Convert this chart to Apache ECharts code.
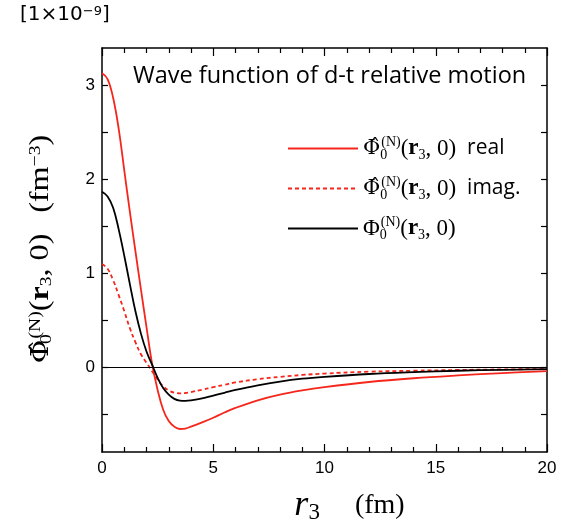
<!DOCTYPE html>
<html>
<head>
    <meta charset="utf-8">
    <title>d-t wave function</title>
    <script src="https://cdn.jsdelivr.net/npm/echarts@6/dist/echarts.min.js"></script>
    <style>
        html, body { margin: 0; padding: 0; background: #fff; }
        #chart { width: 561px; height: 529px; }
    </style>
</head>
<body>
<div id="chart"></div>
<script type="text/javascript">
    // r3 (fm)
    var r3 = [0, 0.25, 0.5, 0.75, 1, 1.25, 1.5, 1.75, 2, 2.25, 2.5, 2.75, 3, 3.25, 3.5, 3.75, 4, 4.5, 5, 5.5, 6, 7, 8, 9, 10, 12, 14, 16, 18, 20];
    // values in units of 1e-9 fm^-3
    var phiReal = [3.13, 3.07, 2.87, 2.54, 2.10, 1.66, 1.24, 0.83, 0.43, 0.04, -0.24, -0.45, -0.57, -0.63, -0.655, -0.65, -0.63, -0.585, -0.535, -0.48, -0.43, -0.35, -0.29, -0.245, -0.21, -0.155, -0.115, -0.085, -0.06, -0.04];
    var phiImag = [1.10, 1.05, 0.93, 0.77, 0.60, 0.42, 0.27, 0.14, 0.05, -0.04, -0.13, -0.20, -0.245, -0.268, -0.276, -0.272, -0.262, -0.237, -0.21, -0.185, -0.16, -0.125, -0.10, -0.08, -0.065, -0.045, -0.035, -0.027, -0.021, -0.017];
    var phiN = [1.87, 1.82, 1.70, 1.47, 1.19, 0.89, 0.60, 0.36, 0.17, 0.03, -0.11, -0.22, -0.29, -0.335, -0.353, -0.355, -0.35, -0.33, -0.30, -0.27, -0.24, -0.19, -0.15, -0.12, -0.10, -0.07, -0.05, -0.035, -0.025, -0.018];

    var yLabels = [0, 1, 2, 3];
    var yTicks = [-0.5, 0, 0.5, 1, 1.5, 2, 2.5, 3];
    var seriesNames = ['real', 'imag.', 'full'];

    function pairs(ys) {
        var out = [];
        for (var i = 0; i < r3.length; i++) {
            out.push([r3[i], ys[i]]);
        }
        return out;
    }

    var serif = '"Liberation Serif", serif';
    var sans = '"Liberation Sans", Arial, sans-serif';
    var ui = '"Open Sans", sans-serif';

    // rich styles for  Phi-hat_0^(N)(r_3, 0)
    function mathRich(size, color) {
        var small = Math.round(size * 0.6);
        return {
            ph: { fontFamily: '"DejaVu Serif"', fontSize: Math.round(size * 0.9), color: color },
            phi: { fontFamily: serif, fontSize: size, color: color },
            sub: { fontFamily: serif, fontSize: small, color: color, verticalAlign: 'bottom', lineHeight: small, width: 1, align: 'left' },
            sup: { fontFamily: serif, fontSize: small, color: color, verticalAlign: 'top', lineHeight: small },
            m: { fontFamily: serif, fontSize: size, color: color },
            b: { fontFamily: serif, fontSize: size, color: color, fontWeight: 'bold' },
            s3: { fontFamily: serif, fontSize: small, color: color, verticalAlign: 'bottom', lineHeight: small },
            t: { fontFamily: ui, fontSize: 21, color: color }
        };
    }

    function legendText(name) {
        var s = name === 'full' ? '{phi|Φ}' : '{ph|Φ\u0302}';
        s += '{sub|0}{sup|(N)}{m|(}{b|r}{s3|3}{m|, 0)}';
        if (name === 'real') s += '{t|  real}';
        if (name === 'imag.') s += '{t|  imag.}';
        return s;
    }

    var frameLine = { onZero: false, lineStyle: { color: '#000', width: 1.5 } };

    var myChart = echarts.init(document.getElementById('chart'));
    var option = {
        animation: false,
        grid: { left: 102, right: 14, top: 48, bottom: 76, containLabel: false },
        legend: {
            data: seriesNames,
            orient: 'vertical',
            left: 282,
            top: 130,
            itemWidth: 70,
            itemHeight: 14,
            itemGap: 13,
            formatter: legendText,
            itemStyle: { opacity: 0 },
            textStyle: { rich: mathRich(23, '#000'), lineHeight: 27 }
        },
        graphic: [
            {
                type: 'text',
                left: 20,
                top: 5,
                style: {
                    text: '{a|[1×10}{e|−9}{a|]}',
                    rich: {
                        a: { fontFamily: '"DejaVu Sans"', fontSize: 20, color: '#000' },
                        e: { fontFamily: '"DejaVu Sans"', fontSize: 13, color: '#000', verticalAlign: 'top', lineHeight: 9 }
                    }
                }
            },
            {
                type: 'text',
                left: 133,
                top: 64,
                style: {
                    text: 'Wave function of d-t relative motion',
                    font: '23.5px "Open Sans", sans-serif',
                    fill: '#000'
                }
            },
            {
                // y axis title, stretched along its length like the original
                type: 'text',
                x: 41,
                y: 249,
                rotation: Math.PI / 2,
                scaleX: 1.15,
                style: {
                    text: '{ph|Φ\u0302}{sub|0}{sup|(N)}{m|(}{b|r}{s3|3}{m|, 0)}{g| }{m|(fm}{sup|−3}{m|)}',
                    align: 'center',
                    verticalAlign: 'middle',
                    rich: Object.assign(mathRich(28, '#34527c'), { g: { fontSize: 28, width: 18 } })
                }
            }
        ],
        xAxis: [
            {
                type: 'value',
                position: 'bottom',
                min: 0,
                max: 20,
                interval: 5,
                name: '{r|r}{n|3}{f|     (fm)}',
                nameLocation: 'middle',
                nameGap: 36,
                nameTextStyle: {
                    padding: [0, 0, 0, 50],
                    rich: {
                        r: { fontFamily: serif, fontStyle: 'italic', fontSize: 36, color: '#000' },
                        n: { fontFamily: serif, fontSize: 23, color: '#000', verticalAlign: 'bottom', lineHeight: 16 },
                        f: { fontFamily: serif, fontSize: 28, color: '#000' }
                    }
                },
                axisLine: frameLine,
                axisTick: { inside: true, length: 8, lineStyle: { color: '#000', width: 1.2 } },
                minorTick: { show: true, splitNumber: 5, length: 5, lineStyle: { color: '#000', width: 1.2 } },
                axisLabel: { fontFamily: sans, fontSize: 17, color: '#000', margin: 8 },
                splitLine: { show: false }
            },
            {
                type: 'value',
                position: 'top',
                min: 0,
                max: 20,
                interval: 5,
                axisLine: frameLine,
                axisTick: { inside: true, length: 8, lineStyle: { color: '#000', width: 1.2 } },
                minorTick: { show: true, splitNumber: 5, length: 5, lineStyle: { color: '#000', width: 1.2 } },
                axisLabel: { show: false },
                splitLine: { show: false }
            }
        ],
        yAxis: [
            {
                type: 'value',
                position: 'left',
                min: -0.9,
                max: 3.4,
                axisLine: frameLine,
                // negative outward length points the ticks into the plot
                axisTick: { inside: false, length: -6, customValues: yTicks, lineStyle: { color: '#000', width: 1.2 } },
                axisLabel: { show: false },
                splitLine: { show: false }
            },
            {
                type: 'value',
                position: 'right',
                min: -0.9,
                max: 3.4,
                axisLine: frameLine,
                axisTick: { inside: true, length: 6, customValues: yTicks, lineStyle: { color: '#000', width: 1.2 } },
                axisLabel: { show: false },
                splitLine: { show: false }
            },
            {
                type: 'value',
                position: 'left',
                min: -0.9,
                max: 3.4,
                axisLine: { show: false, onZero: false },
                axisTick: { show: false },
                axisLabel: { customValues: yLabels, fontFamily: sans, fontSize: 17, color: '#000', margin: 7 },
                splitLine: { show: false }
            }
        ],
        series: [
            {
                name: 'real',
                type: 'line',
                data: pairs(phiReal),
                smooth: 0.4,
                showSymbol: false,
                symbol: 'none',
                lineStyle: { color: '#f5261b', width: 1.8 },
                itemStyle: { color: '#f5261b' }
            },
            {
                name: 'imag.',
                type: 'line',
                data: pairs(phiImag),
                smooth: 0.4,
                showSymbol: false,
                symbol: 'none',
                lineStyle: { color: '#f5261b', width: 1.8, type: [4, 3] },
                itemStyle: { color: '#f5261b' }
            },
            {
                name: 'full',
                type: 'line',
                data: pairs(phiN),
                smooth: 0.4,
                showSymbol: false,
                symbol: 'none',
                lineStyle: { color: '#000', width: 1.8 },
                itemStyle: { color: '#000' },
                markLine: {
                    silent: true,
                    symbol: 'none',
                    label: { show: false },
                    lineStyle: { color: '#000', width: 1, type: 'solid' },
                    data: [{ yAxis: 0 }]
                }
            }
        ]
    };
    myChart.setOption(option);
</script>
</body>
</html>
